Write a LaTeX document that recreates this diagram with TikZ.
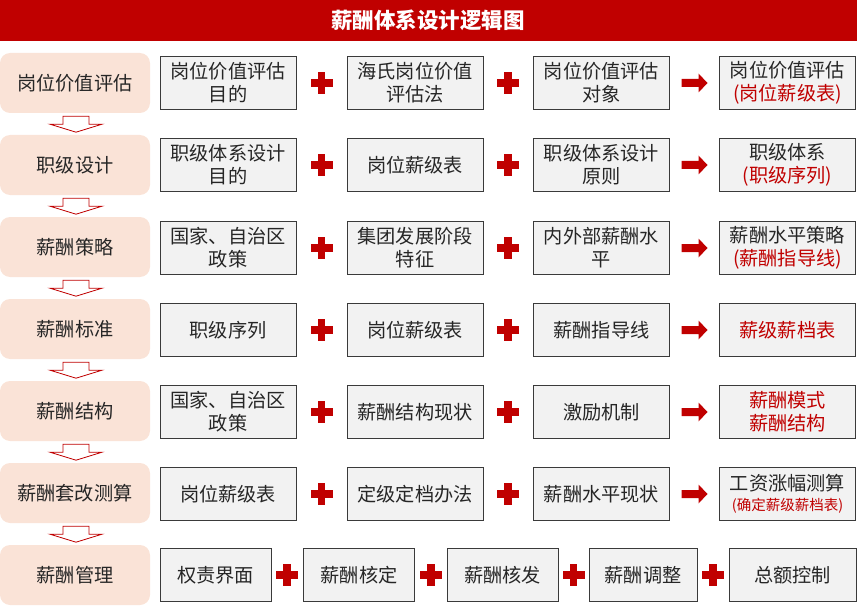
\documentclass[tikz,border=0pt]{standalone}
\usepackage{fontspec}
\setmainfont{Noto Sans CJK SC}
\usetikzlibrary{calc}
\definecolor{hdr}{HTML}{C00000}
\definecolor{peach}{HTML}{FAE3D7}
\definecolor{boxfill}{HTML}{F2F2F2}
\definecolor{boxline}{HTML}{3A3A3A}
\definecolor{txt}{HTML}{262626}
\definecolor{redtxt}{HTML}{C00000}
\tikzset{
  stage/.style={fill=peach, rounded corners=10pt, minimum width=150pt, minimum height=60pt, inner sep=0pt, text=txt, font=\fontsize{19.2}{23}\selectfont},
  gbox/.style={draw=boxline, fill=boxfill, line width=0.8pt, minimum width=136pt, minimum height=53pt, inner sep=0pt, align=center, text=txt, font=\fontsize{19.2}{23}\selectfont},
  sbox/.style={gbox, minimum width=111pt},
  pluspic/.pic={\fill[hdr] (-11,-4) rectangle (11,4); \fill[hdr] (-3.8,-11) rectangle (3.8,11);},
  rarrowpic/.pic={\fill[hdr] (-13,-4) -- (4,-4) -- (4,-9.5) -- (13,0) -- (4,9.5) -- (4,4) -- (-13,4) -- cycle;},
  darrowpic/.pic={\draw[hdr, fill=white, line width=0.8pt, line join=miter] (-13,0) -- (13,0) -- (13,8) -- (26,8) -- (0,16) -- (-26,8) -- (-13,8) -- cycle;}
}
\newcommand{\rt}[1]{\textcolor{redtxt}{#1}}
\begin{document}
\begin{tikzpicture}[x=1pt,y=-1pt]
\useasboundingbox (0,0) rectangle (857,607);
% title
\fill[hdr] (0,0) rectangle (857,41);
\node[font=\fontsize{21.5}{24}\selectfont\bfseries, text=white] (title) at (428,20.5) {薪酬体系设计逻辑图};
% stages
\node[stage] (L1) at (75,83) {岗位价值评估};
\node[stage] (L2) at (75,165) {职级设计};
\node[stage] (L3) at (75,247) {薪酬策略};
\node[stage] (L4) at (75,329) {薪酬标准};
\node[stage] (L5) at (75,411) {薪酬结构};
\node[stage] (L6) at (75,493) {薪酬套改测算};
\node[stage] (L7) at (75,575) {薪酬管理};
\foreach \a/\b in {L1/L2,L2/L3,L3/L4,L4/L5,L5/L6,L6/L7}
  \pic at ($(\a.south)+(1,3)$) {darrowpic};
% row 1
\node[gbox] (A1) at (228,83) {岗位价值评估\\目的};
\node[gbox] (A2) at (415,83) {海氏岗位价值\\评估法};
\node[gbox] (A3) at (601.5,83) {岗位价值评估\\对象};
\node[gbox] (A4) at (787.5,83) {岗位价值评估\\\rt{(岗位薪级表)}};
% row 2
\node[gbox] (B1) at (228,165) {职级体系设计\\目的};
\node[gbox] (B2) at (415,165) {岗位薪级表};
\node[gbox] (B3) at (601.5,165) {职级体系设计\\原则};
\node[gbox] (B4) at (787.5,165) {职级体系\\\rt{(职级序列)}};
% row 3
\node[gbox] (C1) at (228,248) {国家、自治区\\政策};
\node[gbox] (C2) at (415,248) {集团发展阶段\\特征};
\node[gbox] (C3) at (601.5,248) {内外部薪酬水\\平};
\node[gbox] (C4) at (787.5,248) {薪酬水平策略\\\rt{(薪酬指导线)}};
% row 4
\node[gbox] (D1) at (228,330) {职级序列};
\node[gbox] (D2) at (415,330) {岗位薪级表};
\node[gbox] (D3) at (601.5,330) {薪酬指导线};
\node[gbox] (D4) at (787.5,330) {\rt{薪级薪档表}};
% row 5
\node[gbox] (E1) at (228,412) {国家、自治区\\政策};
\node[gbox] (E2) at (415,412) {薪酬结构现状};
\node[gbox] (E3) at (601.5,412) {激励机制};
\node[gbox] (E4) at (787.5,412) {\rt{薪酬模式}\\\rt{薪酬结构}};
% row 6
\node[gbox] (F1) at (228,494) {岗位薪级表};
\node[gbox] (F2) at (415,494) {定级定档办法};
\node[gbox] (F3) at (601.5,494) {薪酬水平现状};
\node[gbox] (F4) at (787.5,494) {工资涨幅测算\\[-3pt]{\fontsize{14.5}{17}\selectfont\rt{(确定薪级薪档表)}}};
% row 7
\node[sbox] (G1) at (215.5,575) {权责界面};
\node[sbox] (G2) at (359,575) {薪酬核定};
\node[sbox] (G3) at (502.5,575) {薪酬核发};
\node[sbox, minimum width=108pt] (G4) at (643,575) {薪酬调整};
\node[sbox, minimum width=127pt] (G5) at (792.5,575) {总额控制};
% pluses and arrows
\foreach \r in {A,B,C,D,E,F}{
  \pic at ($(\r1.east)!0.5!(\r2.west)$) {pluspic};
  \pic at ($(\r2.east)!0.5!(\r3.west)$) {pluspic};
  \pic at ($(\r3.east)!0.5!(\r4.west)$) {rarrowpic};
}
\foreach \a/\b in {G1/G2,G2/G3,G3/G4,G4/G5}
  \pic at ($(\a.east)!0.5!(\b.west)$) {pluspic};
\end{tikzpicture}
\end{document}
